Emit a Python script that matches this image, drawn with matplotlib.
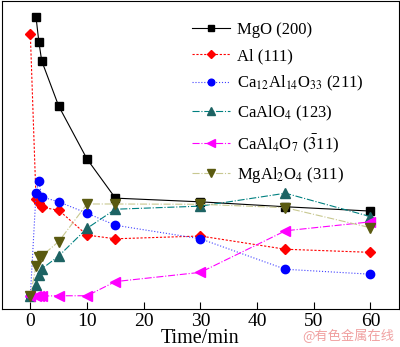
import matplotlib.pyplot as plt

plt.rcParams['font.family'] = ['Liberation Serif', 'DejaVu Serif']
plt.rcParams['mathtext.fontset'] = 'stix'

# 各物相衍射峰相对强度随时间变化
t_mgo = [1, 1.5, 2, 5, 10, 15, 30, 45, 60]
mgo = [94.8, 86.8, 80.6, 65.9, 48.7, 36.0, 34.8, 33.2, 31.8]

t_all = [0, 1, 1.5, 2, 5, 10, 15, 30, 45, 60]
al = [89.3, 35.7, 34.3, 33.0, 32.1, 24.0, 22.8, 23.7, 19.4, 18.4]
c12a7 = [4.2, 37.6, 41.6, 36.4, 34.8, 31.1, 27.2, 22.8, 12.9, 11.3]
caalo4 = [4.2, 7.8, 11.0, 13.0, 17.2, 26.2, 32.4, 33.4, 37.6, 30.0]
caal4o7 = [4.2, 4.2, 4.2, 4.2, 4.3, 4.3, 8.9, 11.9, 25.4, 28.3]
mgal2o4 = [4.3, 14.0, 16.8, 17.2, 21.9, 34.1, 34.1, 34.0, 32.9, 26.4]

fig = plt.figure(figsize=(4.0, 3.47), dpi=100)
ax = fig.add_axes([0.005, 0.1095, 0.992, 0.8875])

ax.plot(t_mgo, mgo, '-', color='black', lw=0.8, marker='s', ms=5.5,
        label='MgO (200)')
ax.plot(t_all, al, '--', color='red', lw=0.8, marker='D', ms=5.5,
        dashes=(2, 1.5), label='Al (111)')
ax.plot(t_all, c12a7, ':', color='#4040ff', lw=0.8, marker='o', ms=6,
        mfc='blue', mec='blue',
        label=r'Ca$_{12}$Al$_{14}$O$_{33}$ (211)')
ax.plot(t_all, caalo4, '-.', color='#008080', lw=0.8, marker='^', ms=6.5,
        mfc='#1d6363', mec='#1d6363', label=r'CaAlO$_4$ (123)')
ax.plot(t_all, caal4o7, '-.', color='magenta', lw=0.8, marker='<', ms=6.5,
        label=r'CaAl$_4$O$_7$ ($\bar{3}$11)')
ax.plot(t_all, mgal2o4, '-.', color='#c8c890', lw=0.8, marker='v', ms=6.5,
        mfc='#5a5a10', mec='#5a5a10', label=r'MgAl$_2$O$_4$ (311)')

ax.set_xlim(-5, 65)
ax.set_ylim(0, 100)
ax.set_xticks([0, 10, 20, 30, 40, 50, 60])
ax.set_yticks([])
ax.tick_params(axis='x', direction='in', length=5, labelsize=14, pad=3)
ax.set_xlabel('Time/min', fontsize=14.5, labelpad=-1)

ax.legend(loc='upper left', bbox_to_anchor=(0.44, 0.98), frameon=False,
          fontsize=12, handlelength=2.3, labelspacing=0.6, handletextpad=0.4,
          markerscale=0.8)

fig.text(0.985, 0.012, '@有色金属在线', color='#f0a0a0', fontsize=9.5,
         ha='right', va='bottom', family=['Noto Sans CJK SC', 'DejaVu Sans'])

fig.savefig('out.png', dpi=100)
